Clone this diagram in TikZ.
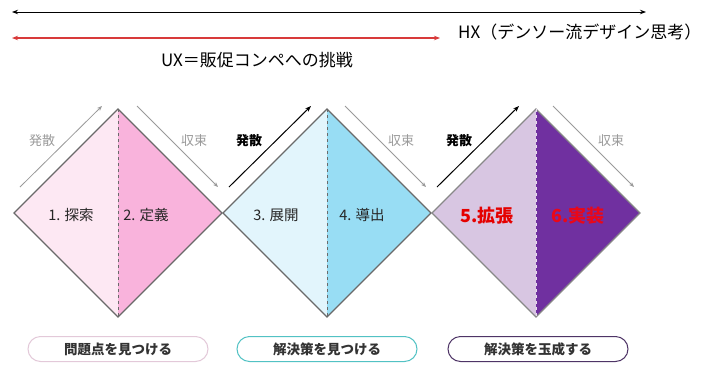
\documentclass[tikz,border=0pt]{standalone}
\usepackage{fontspec}
\setmainfont{Noto Sans CJK JP}
\usetikzlibrary{arrows.meta}
\definecolor{pinkL}{HTML}{FDE8F3}
\definecolor{pinkD}{HTML}{F9B3DC}
\definecolor{cyanL}{HTML}{E2F5FC}
\definecolor{cyanD}{HTML}{98DDF4}
\definecolor{purL}{HTML}{D8C6E2}
\definecolor{purD}{HTML}{7030A0}
\definecolor{edge}{HTML}{6A6A6A}
\definecolor{lgray}{HTML}{9A9A9A}
\definecolor{redline}{HTML}{D83A3A}
\definecolor{pill1}{HTML}{E3C9D9}
\definecolor{pill2}{HTML}{52C2C4}
\definecolor{pill3}{HTML}{4E3466}
\tikzset{
  outline/.style={draw=edge, line width=1.1pt, line join=miter},
  midline/.style={draw=edge, dashed, line width=0.9pt},
  thinarrow/.style={draw=lgray, line width=0.8pt, -{Stealth[length=5pt,width=4pt]}},
  boldarrow/.style={draw=black, line width=1pt, -{Stealth[length=6pt,width=4.5pt]}},
  lbllight/.style={text=lgray, font=\fontsize{13}{14}\selectfont},
  lblbold/.style={text=black, font=\fontsize{13}{14}\selectfont\bfseries},
  inner/.style={text=black!85, font=\fontsize{14.5}{16}\selectfont},
  innerred/.style={text=red!90!black, font=\fontsize{18}{20}\selectfont\bfseries},
  pillbox/.style={draw, line width=1pt, rounded corners=12.5pt, minimum width=180pt, minimum height=25pt, fill=white, text=black!80, font=\fontsize{13.5}{14}\selectfont\bfseries},
  title/.style={text=black, font=\fontsize{17}{19}\selectfont}
}
\begin{document}
\begin{tikzpicture}[x=1pt,y=-1pt]
\useasboundingbox (0,0) rectangle (705,365);
\fill[white] (0,0) rectangle (705,365);

% top arrows
\coordinate (hxL) at (12,12);
\coordinate (hxR) at (646,12);
\coordinate (uxL) at (12,38);
\coordinate (uxR) at (440,38);
\draw[line width=1pt, {Stealth[length=6pt,width=4.5pt]}-{Stealth[length=6pt,width=4.5pt]}] (hxL) -- (hxR);
\draw[redline, line width=1.2pt, {Stealth[length=6pt,width=4.5pt]}-{Stealth[length=6pt,width=4.5pt]}] (uxL) -- (uxR);
\node[title, anchor=west, inner sep=0pt] (hx) at (458,32) {HX（デンソー流デザイン思考）};
\node[title] (ux) at (257,60) {UX＝販促コンペへの挑戦};

% diamonds
\foreach \i/\cx/\cl/\cr in {1/118/pinkL/pinkD, 2/327/cyanL/cyanD, 3/536/purL/purD}{
  \coordinate (L\i) at (\cx-104,213);
  \coordinate (T\i) at (\cx,109);
  \coordinate (R\i) at (\cx+104,213);
  \coordinate (B\i) at (\cx,317);
  \fill[\cl] (L\i) -- (T\i) -- (B\i) -- cycle;
  \fill[\cr] (T\i) -- (R\i) -- (B\i) -- cycle;
}
\draw[outline] (L1) -- (T1) -- (R1) -- (B1) -- cycle;
\draw[outline] (L2) -- (T2) -- (R2) -- (B2) -- cycle;
\draw[outline, draw=edge!80] (L3) -- (T3) -- (R3) -- (B3) -- cycle;
\draw[midline] (T1) -- (B1);
\draw[midline] (T2) -- (B2);
\draw[midline, draw=purL!60!white] (T3) -- (B3);

% diverge / converge arrows
\coordinate (d1s) at (20,187);  \coordinate (d1e) at (102,106);
\coordinate (c1s) at (137,106); \coordinate (c1e) at (218,187);
\coordinate (d2s) at (229,187); \coordinate (d2e) at (311,106);
\coordinate (c2s) at (345,106); \coordinate (c2e) at (426,187);
\coordinate (d3s) at (437,187); \coordinate (d3e) at (519,106);
\coordinate (c3s) at (553,106); \coordinate (c3e) at (634,187);
\draw[thinarrow] (d1s) -- (d1e);
\draw[thinarrow] (c1s) -- (c1e);
\draw[boldarrow] (d2s) -- (d2e);
\draw[thinarrow] (c2s) -- (c2e);
\draw[boldarrow] (d3s) -- (d3e);
\draw[thinarrow] (c3s) -- (c3e);

\node[lbllight] (h1) at (42,141) {発散};
\node[lbllight] (s1) at (194,141) {収束};
\node[lblbold] (h2) at (249,141) {発散};
\node[lbllight] (s2) at (401,141) {収束};
\node[lblbold] (h3) at (459,141) {発散};
\node[lbllight] (s3) at (611,141) {収束};

% inner labels
\node[inner] (t1) at (71,215) {1. 探索};
\node[inner] (t2) at (146,215) {2. 定義};
\node[inner] (t3) at (276,215) {3. 展開};
\node[inner] (t4) at (362,215) {4. 導出};
\node[innerred] (t5) at (487,216) {5.拡張};
\node[innerred, text=red!85!purD] (t6) at (578,216) {6.実装};

% pills
\node[pillbox, draw=pill1] (p1) at (118,349) {問題点を見つける};
\node[pillbox, draw=pill2] (p2) at (327,349) {解決策を見つける};
\node[pillbox, draw=pill3] (p3) at (538,349) {解決策を玉成する};
\end{tikzpicture}
\end{document}
